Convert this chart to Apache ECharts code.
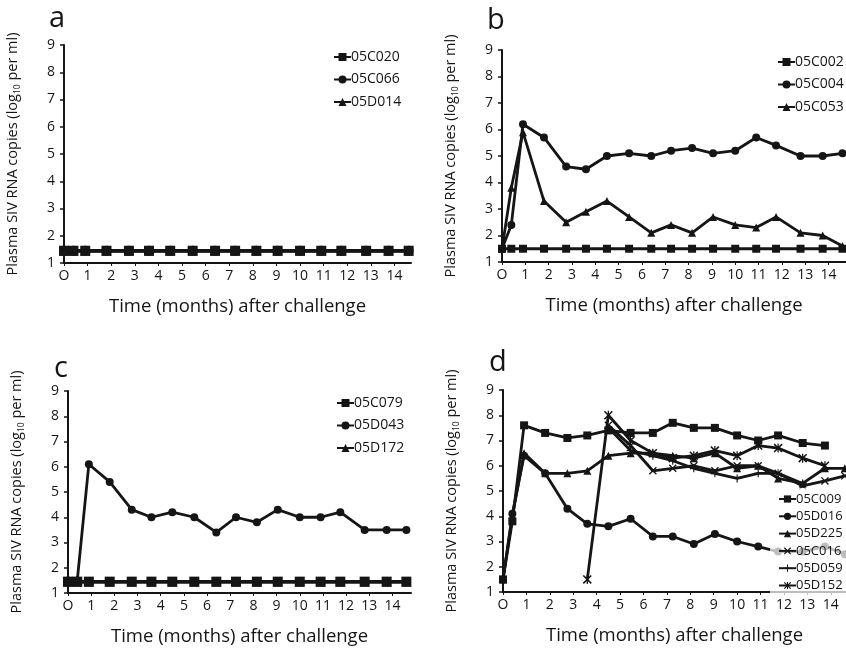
<!DOCTYPE html>
<html>
<head>
<meta charset="utf-8">
<script src="https://cdn.jsdelivr.net/npm/echarts@6/dist/echarts.min.js"></script>
<style>
  html, body { margin: 0; padding: 0; background: #fff; }
  #main { width: 846px; height: 650px; }
</style>
</head>
<body>
<div id="main"></div>
<script>
// sampling times (months after challenge)
var months = [0, 0.4, 0.9, 1.8, 2.75, 3.6, 4.5, 5.45, 6.4, 7.25, 8.15, 9.05, 10, 10.9, 11.75, 12.8, 13.75, 14.6];
var tickMonths = [0, 1, 2, 3, 4, 5, 6, 7, 8, 9, 10, 11, 12, 13, 14];

// panel a
var a_05C020 = [1.45, 1.45, 1.45, 1.45, 1.45, 1.45, 1.45, 1.45, 1.45, 1.45, 1.45, 1.45, 1.45, 1.45, 1.45, 1.45, 1.45, 1.45];
var a_05C066 = [1.45, 1.45, 1.45, 1.45, 1.45, 1.45, 1.45, 1.45, 1.45, 1.45, 1.45, 1.45, 1.45, 1.45, 1.45, 1.45, 1.45, 1.45];
var a_05D014 = [1.45, 1.45, 1.45, 1.45, 1.45, 1.45, 1.45, 1.45, 1.45, 1.45, 1.45, 1.45, 1.45, 1.45, 1.45, 1.45, 1.45, 1.45];

// panel b
var b_05C002 = [1.5, 1.5, 1.5, 1.5, 1.5, 1.5, 1.5, 1.5, 1.5, 1.5, 1.5, 1.5, 1.5, 1.5, 1.5, 1.5, 1.5, 1.5];
var b_05C004 = [1.5, 2.4, 6.2, 5.7, 4.6, 4.5, 5.0, 5.1, 5.0, 5.2, 5.3, 5.1, 5.2, 5.7, 5.4, 5.0, 5.0, 5.1];
var b_05C053 = [1.5, 3.8, 5.9, 3.3, 2.5, 2.9, 3.3, 2.7, 2.1, 2.4, 2.1, 2.7, 2.4, 2.3, 2.7, 2.1, 2.0, 1.6];

// panel c
var c_05C079 = [1.45, 1.45, 1.45, 1.45, 1.45, 1.45, 1.45, 1.45, 1.45, 1.45, 1.45, 1.45, 1.45, 1.45, 1.45, 1.45, 1.45, 1.45];
var c_05D043 = [1.5, 1.5, 6.1, 5.4, 4.3, 4.0, 4.2, 4.0, 3.4, 4.0, 3.8, 4.3, 4.0, 4.0, 4.2, 3.5, 3.5, 3.5];
var c_05D172 = [1.45, 1.45, 1.45, 1.45, 1.45, 1.45, 1.45, 1.45, 1.45, 1.45, 1.45, 1.45, 1.45, 1.45, 1.45, 1.45, 1.45, 1.45];

// panel d
var d_05C009 = [1.5, 3.8, 7.6, 7.3, 7.1, 7.2, 7.4, 7.3, 7.3, 7.7, 7.5, 7.5, 7.2, 7.0, 7.2, 6.9, 6.8, null];
var d_05D016 = [1.5, 4.1, 6.4, 5.7, 4.3, 3.7, 3.6, 3.9, 3.2, 3.2, 2.9, 3.3, 3.0, 2.8, 2.6, 2.6, 2.8, 2.5];
var d_05D225 = [1.5, 4.0, 6.5, 5.7, 5.7, 5.8, 6.4, 6.5, 6.5, 6.4, 6.3, 6.5, 5.9, 6.0, 5.5, 5.3, 5.9, 5.9];
var d_05C016 = [null, null, null, null, null, null, 7.6, 6.8, 5.8, 5.9, 6.0, 5.8, 6.0, 6.0, 5.7, 5.2, 5.4, 5.6];
var d_05D059 = [null, null, null, null, null, null, 7.5, 6.6, 6.4, 6.2, 5.9, 5.7, 5.5, 5.7, 5.7, 5.3, null, null];
var d_05D152 = [null, null, null, null, null, 1.5, 8.0, 7.0, 6.5, 6.3, 6.4, 6.6, 6.4, 6.8, 6.7, 6.3, 6.0, null];

var SYM_X = 'path://M0,1.2 L1.2,0 L10,8.8 L8.8,10 Z M8.8,0 L10,1.2 L1.2,10 L0,8.8 Z';
var SYM_PLUS = 'path://M4.3,0 L5.7,0 L5.7,10 L4.3,10 Z M0,4.3 L10,4.3 L10,5.7 L0,5.7 Z';
var SYM_STAR = 'path://M0,1.2 L1.2,0 L10,8.8 L8.8,10 Z M8.8,0 L10,1.2 L1.2,10 L0,8.8 Z M4.3,0 L5.7,0 L5.7,10 L4.3,10 Z';

var ink = '#151515';
var font = 'Open Sans';

function pairs(vals) {
  return months.map(function (t, i) { return [t, vals[i]]; });
}

function line(name, vals, symbol, idx, size, width) {
  return {
    name: name,
    type: 'line',
    xAxisIndex: idx,
    yAxisIndex: idx,
    data: pairs(vals),
    symbol: symbol,
    symbolSize: size || 8,
    showAllSymbol: true,
    connectNulls: false,
    lineStyle: { color: ink, width: width || 2.8 },
    itemStyle: { color: ink },
    emphasis: { disabled: true },
    animation: false
  };
}

var grids = [
  { left: 64, top: 45, width: 347, height: 218 },
  { left: 502, top: 50, width: 344, height: 212 },
  { left: 68, top: 391, width: 343, height: 202 },
  { left: 503, top: 390, width: 343, height: 202 }
];
var xMax = [14.7, 14.75, 14.8, 14.65];

function xAxis(i) {
  return {
    type: 'value', gridIndex: i, min: 0, max: xMax[i], interval: 1,
    name: 'Time (months) after challenge',
    nameLocation: 'middle', nameGap: 34,
    nameTextStyle: { fontSize: 18.5, color: ink, fontFamily: font },
    axisLine: { show: true, lineStyle: { color: ink, width: 2 } },
    axisTick: { show: true, length: 3, lineStyle: { color: ink } },
    axisLabel: {
      fontSize: 14, color: ink, fontFamily: font, margin: 6, showMaxLabel: false,
      formatter: function (v) {
        if (tickMonths.indexOf(v) < 0) return '';
        return v === 0 ? 'O' : String(v);
      }
    },
    splitLine: { show: false }
  };
}

function yAxis(i) {
  return {
    type: 'value', gridIndex: i, min: 1, max: 9, interval: 1,
    name: '{n|Plasma SIV RNA copies (log}{s|10}{n| per ml)}',
    nameLocation: 'middle', nameGap: 42,
    nameTextStyle: {
      rich: {
        n: { fontSize: 14.5, color: ink, fontFamily: font, lineHeight: 19 },
        s: { fontSize: 8.5, color: ink, fontFamily: font, verticalAlign: 'bottom', lineHeight: 19 }
      }
    },
    axisLine: { show: true, lineStyle: { color: ink, width: 2 } },
    axisTick: { show: true, length: 4, lineStyle: { color: ink, width: 1.5 } },
    axisLabel: { fontSize: 14, color: ink, fontFamily: font, margin: 9 },
    splitLine: { show: false }
  };
}

function legend(names, left, top, small) {
  return {
    data: names, orient: 'vertical', left: left, top: top,
    itemWidth: 17, itemHeight: small ? 9 : 10,
    itemGap: small ? 3.3 : 6.5,
    padding: small ? [4, 12, 4, 8] : 0,
    backgroundColor: small ? 'rgba(255,255,255,0.72)' : 'transparent',
    selectedMode: false,
    textStyle: { fontSize: small ? 13 : 14, color: ink, fontFamily: font, lineHeight: small ? 14 : 16, padding: [0, 0, 0, -5] }
  };
}

var chart = echarts.init(document.getElementById('main'), null, { renderer: 'canvas' });

var letter = { fontSize: 29, fontWeight: 'normal', color: ink, fontFamily: font };

var option = {
  backgroundColor: '#fff',
  animation: false,
  title: [
    { text: 'a', left: 44, top: -1, textStyle: letter },
    { text: 'b', left: 482, top: 1, textStyle: letter },
    { text: 'c', left: 49, top: 349, textStyle: letter },
    { text: 'd', left: 484, top: 343, textStyle: letter }
  ],
  grid: grids,
  xAxis: [xAxis(0), xAxis(1), xAxis(2), xAxis(3)],
  yAxis: [yAxis(0), yAxis(1), yAxis(2), yAxis(3)],
  legend: [
    legend(['05C020', '05C066', '05D014'], 333, 49, false),
    legend(['05C002', '05C004', '05C053'], 777, 54, false),
    legend(['05C079', '05D043', '05D172'], 336, 395, false),
    legend(['05C009', '05D016', '05D225', '05C016', '05D059', '05D152'], 770, 488, true)
  ],
  series: [
    line('05C020', a_05C020, 'rect', 0, 10, 3.5),
    line('05C066', a_05C066, 'circle', 0, 10, 3.5),
    line('05D014', a_05D014, 'triangle', 0, 10, 3.5),

    line('05C002', b_05C002, 'rect', 1, 8),
    line('05C004', b_05C004, 'circle', 1, 8),
    line('05C053', b_05C053, 'triangle', 1, 8),

    line('05C079', c_05C079, 'rect', 2, 10, 3.5),
    line('05D043', c_05D043, 'circle', 2, 8),
    line('05D172', c_05D172, 'triangle', 2, 10, 3.5),

    line('05C009', d_05C009, 'rect', 3, 8),
    line('05D016', d_05D016, 'circle', 3, 8),
    line('05D225', d_05D225, 'triangle', 3, 8),
    line('05C016', d_05C016, SYM_X, 3, 8),
    line('05D059', d_05D059, SYM_PLUS, 3, 8),
    line('05D152', d_05D152, SYM_STAR, 3, 9)
  ]
};

chart.setOption(option);
</script>
</body>
</html>
